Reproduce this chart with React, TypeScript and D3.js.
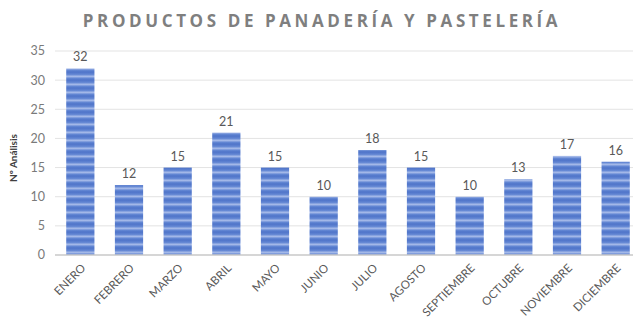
import React from "react";
import * as d3 from "d3";

const months = ["ENERO","FEBRERO","MARZO","ABRIL","MAYO","JUNIO","JULIO","AGOSTO","SEPTIEMBRE","OCTUBRE","NOVIEMBRE","DICIEMBRE"];
const values = [32,12,15,21,15,10,18,15,10,13,17,16];
const yTicks = [0,5,10,15,20,25,30,35];
const title = "PRODUCTOS DE PANADERÍA Y PASTELERÍA";
const yLabel = "Nº Análisis";

const W = 633, H = 321;

export default function App() {
  const x = d3.scaleBand<string>().domain(months).range([56, 640]).paddingInner(0.42).paddingOuter(0.21);
  const y = d3.scaleLinear().domain([0, 35]).range([255, 51]);
  const font = "Lato, 'Open Sans', sans-serif";
  return (
    <div style={{ position: "absolute", left: 0, top: 0 }}>
      <svg width={W} height={H} style={{ display: "block", background: "#fff" }}>
        <defs>
          <linearGradient id="stripe" x1="0" y1="0" x2="0" y2="1">
            <stop offset="0" stopColor="#4f74c9" />
            <stop offset="0.3" stopColor="#6286d3" />
            <stop offset="0.55" stopColor="#a6bae9" />
            <stop offset="0.8" stopColor="#6286d3" />
            <stop offset="1" stopColor="#4f74c9" />
          </linearGradient>
          <pattern id="bars" patternUnits="userSpaceOnUse" width="10" height="8">
            <rect width="10" height="8" fill="url(#stripe)" />
          </pattern>
        </defs>
        <text x={322} y={27} textAnchor="middle" fill="#7f7f7f" fontFamily="'Open Sans', sans-serif" fontWeight="bold" fontSize={17} letterSpacing={3.6}>{title}</text>
        {yTicks.map(t => (
          <g key={t}>
            {t > 0 && <line x1={55} x2={W} y1={y(t)} y2={y(t)} stroke="#e3e3e3" strokeWidth={1} />}
            <text x={45} y={y(t)} dy="0.35em" textAnchor="end" fill="#7a7a7a" fontFamily={font} fontSize={12.5}>{t}</text>
          </g>
        ))}
        {months.map((m, i) => (
          <rect key={m} x={x(m)} y={y(values[i])} width={x.bandwidth()} height={y(0) - y(values[i])} fill="url(#bars)" />
        ))}
        <line x1={55} x2={W} y1={y(0)} y2={y(0)} stroke="#c8c8c8" strokeWidth={1.5} />
        {months.map((m, i) => (
          <text key={m} x={(x(m) as number) + x.bandwidth() / 2} y={y(values[i]) - 7} textAnchor="middle" fill="#595959" fontFamily={font} fontSize={12.5}>{values[i]}</text>
        ))}
        {months.map(m => {
          const cx = (x(m) as number) + x.bandwidth() / 2 + 3;
          return (
            <text key={m} transform={`translate(${cx},${266}) rotate(-45)`} textAnchor="end" dy="0.35em" fill="#595959" fontFamily={font} fontSize={11.5}>{m}</text>
          );
        })}
        <text transform={`translate(17,158) rotate(-90)`} textAnchor="middle" fill="#404040" fontFamily={font} fontWeight="bold" fontSize={10}>{yLabel}</text>
      </svg>
    </div>
  );
}
